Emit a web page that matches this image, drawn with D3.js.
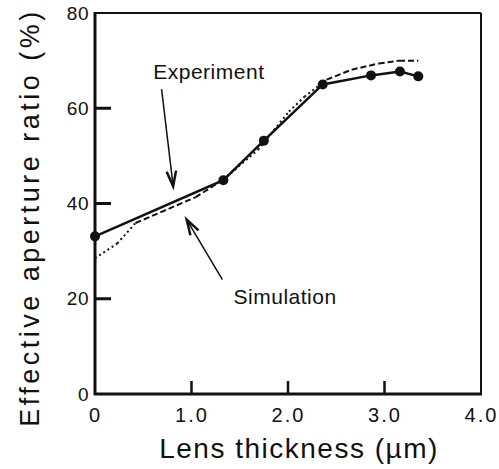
<!DOCTYPE html>
<html>
<head>
<meta charset="utf-8">
<script src="https://cdn.jsdelivr.net/npm/d3@7"></script>
<style>
  body { margin: 0; background: #fff; }
  text { font-family: "Liberation Sans", Arial, sans-serif; fill: #111; }
</style>
</head>
<body>
<svg id="chart" width="499" height="469"></svg>
<script>
// 실험값 (Experiment)
const expThickness = [0, 1.33, 1.75, 2.36, 2.86, 3.16, 3.35];
const expRatio     = [33.1, 44.9, 53.2, 65.0, 66.9, 67.7, 66.7];

// 시뮬레이션 (Simulation)
const simThickness = [0, 0.23, 0.42, 1.04, 1.33, 1.69, 2.01, 2.17, 2.40, 2.66, 2.94, 3.15, 3.35];
const simRatio     = [28.5, 31.6, 35.9, 41.3, 45.0, 51.3, 59.3, 62.4, 66.0, 68.1, 69.4, 70.0, 70.0];

const xTicks = [0, 1, 2, 3, 4];
const xTickLabels = ["0", "1.0", "2.0", "3.0", "4.0"];
const yTicks = [0, 20, 40, 60, 80];
const yTickLabels = ["0", "20", "40", "60", "80"];

// 주석: 글자 위치와 화살표 (데이터 좌표)
const notes = [
  { label: "Experiment", tx: 1.18, ty: 66.1, from: [0.69, 64.0], to: [0.81, 43.6] },
  { label: "Simulation", tx: 1.97, ty: 18.9, from: [1.32, 24.0], to: [0.95, 36.6] }
];

const svg = d3.select("#chart");
const padLeft = 95, padRight = 481, padTop = 13, padBottom = 394;

const x = d3.scaleLinear().domain([0, 4]).range([padLeft, padRight]);
const y = d3.scaleLinear().domain([0, 80]).range([padBottom, padTop]);

// 틀
svg.append("line").attr("x1", padLeft).attr("x2", padRight).attr("y1", padTop).attr("y2", padTop)
  .attr("stroke", "#111").attr("stroke-width", 2);
svg.append("line").attr("x1", padRight).attr("x2", padRight).attr("y1", padTop).attr("y2", padBottom)
  .attr("stroke", "#111").attr("stroke-width", 2);
svg.append("line").attr("x1", padLeft).attr("x2", padLeft).attr("y1", padTop - 1).attr("y2", padBottom + 1)
  .attr("stroke", "#111").attr("stroke-width", 3);
svg.append("line").attr("x1", padLeft - 1).attr("x2", padRight + 1).attr("y1", padBottom).attr("y2", padBottom)
  .attr("stroke", "#111").attr("stroke-width", 3);

// y 축 글자
const yAxis = svg.append("g")
  .attr("transform", `translate(${padLeft},0)`)
  .call(d3.axisLeft(y).tickValues(yTicks).tickSize(0).tickPadding(6)
    .tickFormat((d, i) => yTickLabels[i]));
yAxis.select(".domain").remove();
yAxis.selectAll(".tick text")
  .attr("font-size", 19).attr("letter-spacing", 0.5)
  .style("font-family", "Liberation Sans, Arial, sans-serif").attr("fill", "#111");

// y 눈금 (안쪽으로)
svg.append("g").selectAll("line").data(yTicks.slice(1, -1)).join("line")
  .attr("x1", padLeft).attr("x2", padLeft + 16)
  .attr("y1", d => y(d)).attr("y2", d => y(d))
  .attr("stroke", "#111").attr("stroke-width", 3);

// x 축 글자
const xAxis = svg.append("g")
  .attr("transform", `translate(0,${padBottom})`)
  .call(d3.axisBottom(x).tickValues(xTicks).tickSize(0).tickPadding(14)
    .tickFormat((d, i) => xTickLabels[i]));
xAxis.select(".domain").remove();
xAxis.selectAll(".tick text")
  .attr("font-size", 20).attr("letter-spacing", 2)
  .style("font-family", "Liberation Sans, Arial, sans-serif").attr("fill", "#111");

// x 눈금 (안쪽으로)
svg.append("g").selectAll("line").data(xTicks.slice(1, -1)).join("line")
  .attr("x1", d => x(d)).attr("x2", d => x(d))
  .attr("y1", padBottom).attr("y2", padBottom - 13)
  .attr("stroke", "#111").attr("stroke-width", 2.5);

// 시뮬레이션: 구간마다 점선/파선
const simPoints = simThickness.map((t, i) => [t, simRatio[i]]);
for (let i = 0; i < simPoints.length - 1; i++) {
  const a = simPoints[i], b = simPoints[i + 1];
  const mid = (a[0] + b[0]) / 2;
  const dotted = mid < 0.42 || (mid > 1.33 && mid < 2.4);
  svg.append("line")
    .attr("x1", x(a[0])).attr("y1", y(a[1]))
    .attr("x2", x(b[0])).attr("y2", y(b[1]))
    .attr("stroke", "#111").attr("stroke-width", 2)
    .attr("stroke-dasharray", dotted ? "2,3" : "6,3");
}

// 실험값: 실선 + 점
const expPoints = expThickness.map((t, i) => [t, expRatio[i]]);
svg.append("path")
  .datum(expPoints)
  .attr("fill", "none").attr("stroke", "#111").attr("stroke-width", 2.5)
  .attr("d", d3.line().x(d => x(d[0])).y(d => y(d[1])));
svg.selectAll(".dot").data(expPoints).join("circle")
  .attr("class", "dot")
  .attr("cx", d => x(d[0])).attr("cy", d => y(d[1])).attr("r", 5)
  .attr("fill", "#111");

// 주석
notes.forEach(n => {
  svg.append("text")
    .attr("x", x(n.tx)).attr("y", y(n.ty))
    .attr("text-anchor", "middle").attr("font-size", 21).attr("letter-spacing", 0.5)
    .text(n.label);

  const x1 = x(n.from[0]), y1 = y(n.from[1]);
  const x2 = x(n.to[0]), y2 = y(n.to[1]);
  svg.append("line")
    .attr("x1", x1).attr("y1", y1).attr("x2", x2).attr("y2", y2)
    .attr("stroke", "#111").attr("stroke-width", 1.5);
  const ang = Math.atan2(y2 - y1, x2 - x1);
  const len = 16, spread = 0.3;
  const p1 = [x2 - len * Math.cos(ang - spread), y2 - len * Math.sin(ang - spread)];
  const p2 = [x2 - len * Math.cos(ang + spread), y2 - len * Math.sin(ang + spread)];
  svg.append("path")
    .attr("d", `M${p1[0]},${p1[1]} L${x2},${y2} L${p2[0]},${p2[1]}`)
    .attr("fill", "none").attr("stroke", "#111").attr("stroke-width", 2.5)
    .attr("stroke-linejoin", "miter");
});

// 축 제목
svg.append("text")
  .attr("x", (padLeft + padRight) / 2 + 11).attr("y", 458)
  .attr("text-anchor", "middle").attr("font-size", 28).attr("letter-spacing", 1.5)
  .text("Lens thickness (\u00b5m)");

svg.append("text")
  .attr("transform", `translate(39,${(5 + 430) / 2}) rotate(-90)`)
  .attr("text-anchor", "middle").attr("font-size", 27).attr("letter-spacing", 3.5)
  .text("Effective aperture ratio (%)");
</script>
</body>
</html>
